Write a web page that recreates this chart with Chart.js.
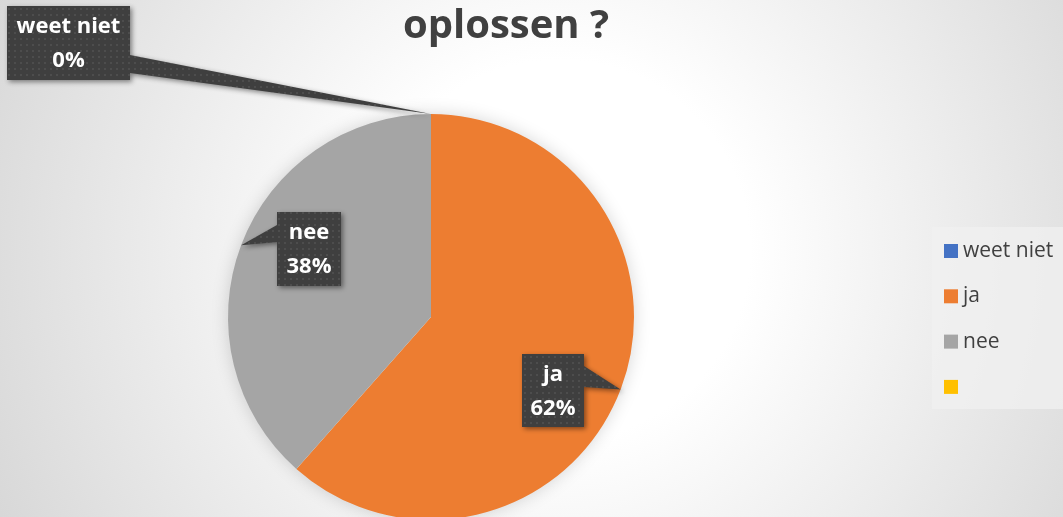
<!DOCTYPE html>
<html>
<head>
<meta charset="utf-8">
<script src="https://cdn.jsdelivr.net/npm/chart.js@4/dist/chart.umd.min.js"></script>
<style>
  html, body { margin: 0; padding: 0; overflow: hidden; }
  #wrap {
    position: relative; width: 1063px; height: 530px;
    background: radial-gradient(circle at 560px 250px, #ffffff 0px, #ffffff 190px, #d6d6d6 640px);
  }
</style>
</head>
<body>
<div id="wrap"><canvas id="pieChart"></canvas></div>
<script>
// data
const labels = ['weet niet', 'ja', 'nee', ''];
const values = [0, 8, 5, 0];
const colors = ['#4472C4', '#ED7D31', '#A5A5A5', '#FFC000'];
const titleText = 'oplossen ?';

const ctx = document.getElementById('pieChart').getContext('2d');

// patroon voor de labels (donker met stipjes)
function makePattern() {
    const c = document.createElement('canvas');
    c.width = 6; c.height = 6;
    const p = c.getContext('2d');
    p.fillStyle = '#3f3f3f';
    p.fillRect(0, 0, 6, 6);
    p.fillStyle = '#4d4d4d';
    p.fillRect(2, 2, 2, 2);
    return ctx.createPattern(c, 'repeat');
}
const dotPattern = makePattern();

// plek van de callouts (box + hoek van de punt op de rand)
const callouts = {
    0: { x: 7, y: 6, w: 123, h: 74, side: 'right', b1: 49, b2: 67, tipAngle: -Math.PI / 2 },
    1: { x: 522, y: 354, w: 62, h: 73, side: 'right', b1: 12, b2: 33, tipAngle: 0.365 },
    2: { x: 277, y: 212, w: 64, h: 74, side: 'left', b1: 13, b2: 30, tipAngle: 3.503 }
};

const shadowPlugin = {
    id: 'pieShadow',
    beforeDatasetsDraw(chart) {
        const arc = chart.getDatasetMeta(0).data[1];
        const c = chart.ctx;
        c.save();
        c.shadowColor = 'rgba(0,0,0,0.18)';
        c.shadowBlur = 18;
        c.fillStyle = '#ffffff';
        c.beginPath();
        c.arc(arc.x, arc.y, arc.outerRadius - 1, 0, Math.PI * 2);
        c.fill();
        c.restore();
    }
};

const labelPlugin = {
    id: 'callouts',
    afterDraw(chart) {
        const c = chart.ctx;
        const meta = chart.getDatasetMeta(0);
        const data = chart.data.datasets[0].data;
        const total = data.reduce((a, b) => a + b, 0);

        // titel
        c.save();
        c.fillStyle = '#404040';
        c.font = 'bold 40px "Open Sans"';
        c.textAlign = 'center';
        c.textBaseline = 'alphabetic';
        c.fillText(titleText, 506, 38);
        c.restore();

        Object.keys(callouts).forEach(k => {
            const i = +k;
            const s = callouts[i];
            const arc = meta.data[i];
            const tx = arc.x + Math.cos(s.tipAngle) * arc.outerRadius;
            const ty = arc.y + Math.sin(s.tipAngle) * arc.outerRadius;

            c.save();
            c.beginPath();
            c.moveTo(s.x, s.y);
            if (s.side === 'right') {
                c.lineTo(s.x + s.w, s.y);
                c.lineTo(s.x + s.w, s.y + s.b1);
                c.lineTo(tx, ty);
                c.lineTo(s.x + s.w, s.y + s.b2);
                c.lineTo(s.x + s.w, s.y + s.h);
                c.lineTo(s.x, s.y + s.h);
            } else {
                c.lineTo(s.x + s.w, s.y);
                c.lineTo(s.x + s.w, s.y + s.h);
                c.lineTo(s.x, s.y + s.h);
                c.lineTo(s.x, s.y + s.b2);
                c.lineTo(tx, ty);
                c.lineTo(s.x, s.y + s.b1);
            }
            c.closePath();
            c.shadowColor = 'rgba(0,0,0,0.45)';
            c.shadowBlur = 5;
            c.shadowOffsetX = 2;
            c.shadowOffsetY = 2;
            c.fillStyle = dotPattern;
            c.fill();
            c.restore();

            const pct = Math.round(data[i] / total * 100) + '%';
            const cx = s.x + s.w / 2;
            c.save();
            c.fillStyle = '#ffffff';
            c.font = 'bold 22px "Open Sans"';
            c.textAlign = 'center';
            c.textBaseline = 'middle';
            c.fillText(chart.data.labels[i], cx, s.y + s.h / 2 - 16);
            c.fillText(pct, cx, s.y + s.h / 2 + 18);
            c.restore();
        });

        // legenda
        c.save();
        c.fillStyle = 'rgba(240,240,240,0.75)';
        c.fillRect(932, 227, 131, 182);
        c.font = '21px "Open Sans"';
        c.textBaseline = 'middle';
        chart.data.labels.forEach((lab, i) => {
            const y = 251 + i * 45.3;
            c.fillStyle = chart.data.datasets[0].backgroundColor[i];
            c.fillRect(944, y - 7, 14, 14);
            c.fillStyle = '#404040';
            c.fillText(lab, 963, y);
        });
        c.restore();
    }
};

new Chart(ctx, {
    type: 'pie',
    data: {
        labels: labels,
        datasets: [{
            data: values,
            backgroundColor: colors,
            borderWidth: 0,
            hoverOffset: 0
        }]
    },
    options: {
        responsive: true,
        maintainAspectRatio: false,
        animation: false,
        events: [],
        layout: {
            padding: { left: 228, right: 429, top: 114, bottom: 10 }
        },
        plugins: {
            legend: { display: false },
            title: { display: false },
            tooltip: { enabled: false }
        }
    },
    plugins: [shadowPlugin, labelPlugin]
});
</script>
</body>
</html>
